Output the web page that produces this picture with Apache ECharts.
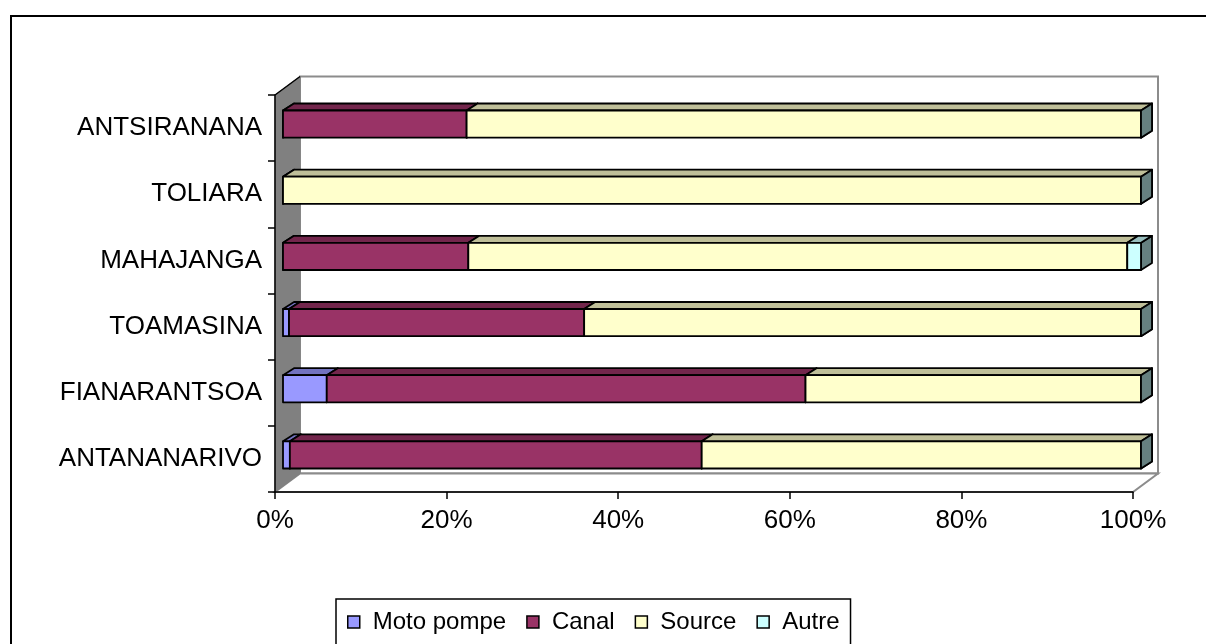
<!DOCTYPE html>
<html>
<head>
<meta charset="utf-8">
<script src="https://cdn.jsdelivr.net/npm/echarts@6/dist/echarts.min.js"></script>
<style>
  html, body { margin: 0; padding: 0; background: #fff; }
  #main { width: 1206px; height: 644px; }
</style>
</head>
<body>
<div id="main"></div>
<script>
// regions, bottom to top
var categories = ['ANTANANARIVO', 'FIANARANTSOA', 'TOAMASINA', 'MAHAJANGA', 'TOLIARA', 'ANTSIRANANA'];
var motoPompe = [0.8, 5.1, 0.7, 0, 0, 0];
var canal = [48.0, 55.8, 34.4, 21.6, 0, 21.4];
var source = [51.2, 39.1, 64.9, 76.8, 100, 78.6];
var autre = [0, 0, 0, 1.6, 0, 0];
var xTicks = [0, 20, 40, 60, 80, 100];

var seriesNames = ['Moto pompe', 'Canal', 'Source', 'Autre'];
var seriesValues = [motoPompe, canal, source, autre];
var faceColors = ['#9999FF', '#993366', '#FFFFCC', '#CCFFFF'];
var topColors = ['#7373BF', '#73264C', '#BFBF99', '#99BFBF'];
var sideColors = ['#4D4D80', '#4D1A33', '#808066', '#668080'];

var FONT = 'Arial, "Liberation Sans", sans-serif';
var DEPTH = [25, -18.5]; // wall depth, px
var BAR_OFF = [8, -4];   // bar front face offset from the front plane
var BAR_D = [11, -7];    // bar depth

// 100% stacking: [start, end, categoryIndex]
function stackedData(k) {
  var out = [];
  for (var i = 0; i < categories.length; i++) {
    var total = 0, before = 0;
    for (var s = 0; s < seriesValues.length; s++) {
      total += seriesValues[s][i];
      if (s < k) before += seriesValues[s][i];
    }
    var start = before / total * 100;
    var end = (before + seriesValues[k][i]) / total * 100;
    out.push([start, end, i]);
  }
  return out;
}

function makeBarRender(k) {
  return function (params, api) {
    var cat = api.value(2);
    var a = api.coord([api.value(0), cat]);
    var b = api.coord([api.value(1), cat]);
    var h = api.size([0, 1])[1] * 0.41;
    var xl = a[0] + BAR_OFF[0], xr = b[0] + BAR_OFF[0];
    var yt = a[1] + BAR_OFF[1] - h / 2, yb = yt + h;
    var dx = BAR_D[0], dy = BAR_D[1];
    var st = { stroke: '#000', lineWidth: 1.8, lineJoin: 'round' };
    var children = [];
    children.push({
      type: 'polygon',
      shape: { points: [[xr, yt], [xr + dx, yt + dy], [xr + dx, yb + dy], [xr, yb]] },
      style: Object.assign({ fill: sideColors[k] }, st)
    });
    if (xr - xl > 0.3) {
      children.push({
        type: 'polygon',
        shape: { points: [[xl, yt], [xl + dx, yt + dy], [xr + dx, yt + dy], [xr, yt]] },
        style: Object.assign({ fill: topColors[k] }, st)
      });
      children.push({
        type: 'rect',
        shape: { x: xl, y: yt, width: xr - xl, height: h },
        style: Object.assign({ fill: faceColors[k] }, st)
      });
    }
    return { type: 'group', children: children };
  };
}

function renderWalls(params, api) {
  var cs = params.coordSys;
  var x0 = cs.x, y0 = cs.y, x1 = cs.x + cs.width, y1 = cs.y + cs.height;
  var dx = DEPTH[0], dy = DEPTH[1];
  return {
    type: 'group',
    children: [
      { // back wall
        type: 'rect',
        shape: { x: x0 + dx, y: y0 + dy, width: cs.width, height: cs.height },
        style: { fill: '#fff', stroke: '#8c8c8c', lineWidth: 2 }
      },
      { // floor
        type: 'polygon',
        shape: { points: [[x0, y1], [x0 + dx, y1 + dy], [x1 + dx, y1 + dy], [x1, y1]] },
        style: { fill: '#fff', stroke: '#8c8c8c', lineWidth: 2 }
      },
      { // left wall
        type: 'polygon',
        shape: { points: [[x0, y0], [x0 + dx, y0 + dy], [x0 + dx, y1 + dy], [x0, y1]] },
        style: { fill: '#808080', stroke: '#808080', lineWidth: 1 }
      },
      {
        type: 'line',
        shape: { x1: x0, y1: y0, x2: x0 + dx, y2: y0 + dy },
        style: { stroke: '#000', lineWidth: 1.5 }
      }
    ]
  };
}

var series = [{
  name: 'walls',
  type: 'custom',
  renderItem: renderWalls,
  data: [[0, 0]],
  silent: true,
  z: -1
}];
for (var k = 0; k < seriesNames.length; k++) {
  series.push({
    name: seriesNames[k],
    type: 'custom',
    renderItem: makeBarRender(k),
    encode: { x: [0, 1], y: 2 },
    itemStyle: { color: faceColors[k] },
    data: stackedData(k),
    z: 2 + k
  });
}

var myChart = echarts.init(document.getElementById('main'));
var option = {
  backgroundColor: '#ffffff',
  animation: false,
  graphic: [{
    type: 'rect',
    shape: { x: 11, y: 16, width: 1400, height: 900 },
    style: { fill: null, stroke: '#000', lineWidth: 2 },
    z: -10
  }],
  grid: { left: 275, right: 73, top: 95, bottom: 152 },
  legend: {
    data: seriesNames.map(function (n) { return { name: n, icon: 'rect' }; }),
    left: 336,
    top: 599,
    orient: 'horizontal',
    itemWidth: 12,
    itemHeight: 12,
    itemGap: 20,
    padding: [11, 11, 30, 11],
    borderColor: '#000',
    borderWidth: 1.5,
    itemStyle: { borderColor: '#000', borderWidth: 1.5 },
    textStyle: { fontFamily: FONT, fontSize: 24, color: '#000', padding: [0, 0, 0, 8] }
  },
  xAxis: {
    type: 'value',
    min: 0,
    max: 100,
    interval: 20,
    axisLine: { show: true, lineStyle: { color: '#000', width: 1.5 } },
    axisTick: { show: true, length: 7, lineStyle: { color: '#000', width: 1.5 } },
    splitLine: { show: false },
    axisLabel: {
      formatter: function (v) { return xTicks.indexOf(v) >= 0 ? v + '%' : ''; },
      fontFamily: FONT, fontSize: 26, color: '#000', margin: 16
    }
  },
  yAxis: {
    type: 'category',
    data: categories,
    axisLine: { show: true, lineStyle: { color: '#000', width: 1.5 } },
    axisTick: { show: true, length: 7, lineStyle: { color: '#000', width: 1.5 } },
    splitLine: { show: false },
    axisLabel: { fontFamily: FONT, fontSize: 26, color: '#000', margin: 13 }
  },
  series: series
};
console.log(option);
myChart.setOption(option);
</script>
</body>
</html>
